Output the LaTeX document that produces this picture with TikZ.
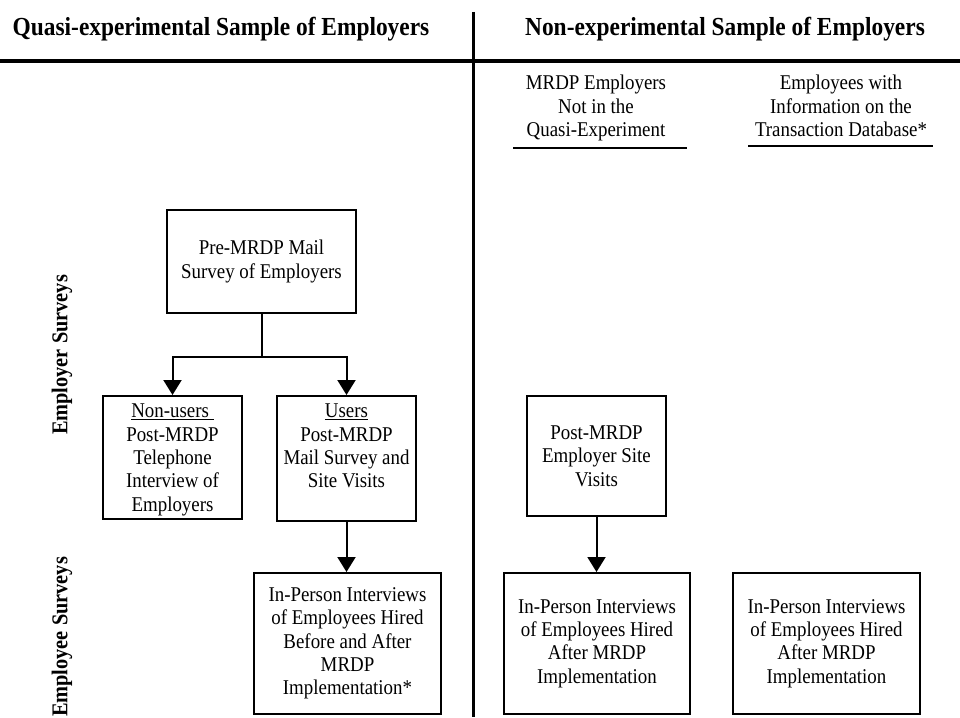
\documentclass[tikz,border=0pt]{standalone}
\usepackage{fontspec}
\setmainfont{Liberation Serif}[FakeStretch=0.9]
\usetikzlibrary{arrows.meta}
\begin{document}
\begin{tikzpicture}[x=1pt,y=-1pt,
  box/.style={draw, line width=2pt, inner sep=0pt, align=center,
    font=\fontsize{21}{23.3}\selectfont},
  txt/.style={inner sep=0pt, align=center, font=\fontsize{21}{23.3}\selectfont},
  head/.style={inner sep=0pt, font=\bfseries\fontsize{26}{30}\selectfont},
  side/.style={inner sep=0pt, rotate=90, font=\bfseries\fontsize{22.6}{26}\selectfont},
  flow/.style={line width=2pt, -{Triangle[width=18pt,length=15pt]}},
  link/.style={line width=2pt},
  rule/.style={line width=3pt},
  subrule/.style={line width=2.5pt}]
\fill[white] (0,0) rectangle (960,717);
\useasboundingbox (0,0) rectangle (960,717);

% column headings and frame
\node[head, anchor=base] (lefthead) at (221,36) {Quasi-experimental Sample of Employers};
\node[head, anchor=base] (righthead) at (725,36) {Non-experimental Sample of Employers};
\coordinate (divtop) at (473,12);
\coordinate (divbot) at (473,717);
\coordinate (hleft) at (0,61);
\coordinate (hright) at (960,61);
\draw[rule] (divtop) -- (divbot);
\draw[rule] (hleft) -- (hright);

% row labels
\node[side] (emplrlabel) at (62,355) {Employer Surveys};
\node[side] (empleelabel) at (62,637) {Employee Surveys};

% sub-headings of the non-experimental sample
\node[txt, anchor=north] (notquasi) at (596,75) {MRDP Employers\\Not in the\\Quasi-Experiment};
\node[txt, anchor=north] (transdb) at (841,75) {Employees with\\Information on the\\Transaction Database*};
\coordinate (u1a) at (513,148);
\coordinate (u1b) at (687,148);
\coordinate (u2a) at (748,146);
\coordinate (u2b) at (933,146);
\draw[subrule] (u1a) -- (u1b);
\draw[subrule] (u2a) -- (u2b);

% quasi-experimental sample
\node[box, minimum width=189pt, minimum height=103pt] (pre) at (261.5,261.5)
  {Pre-MRDP Mail\\Survey of Employers};
\node[box, minimum width=139pt, minimum height=123pt] (nonusers) at (172.5,457.5) {};
\node[txt, anchor=north] (nonuserstext) at (172.5,404)
  {\underline{Non-users\ }\\Post-MRDP\\Telephone\\Interview of\\Employers};
\node[box, minimum width=139pt, minimum height=125pt] (users) at (346.5,458.5) {};
\node[txt, anchor=north] (userstext) at (346.5,404)
  {\underline{Users}\\Post-MRDP\\Mail Survey and\\Site Visits};
\node[box, minimum width=187pt, minimum height=141pt] (before) at (347.5,643.5)
  {In-Person Interviews\\of Employees Hired\\Before and After\\MRDP\\Implementation*};

% non-experimental sample
\node[box, minimum width=139pt, minimum height=120pt] (sitevisit) at (596.5,456)
  {Post-MRDP\\Employer Site\\Visits};
\node[box, minimum width=186pt, minimum height=141pt] (after) at (597,643.5)
  {In-Person Interviews\\of Employees Hired\\After MRDP\\Implementation};
\node[box, minimum width=187pt, minimum height=141pt] (aftertrans) at (826.5,643.5)
  {In-Person Interviews\\of Employees Hired\\After MRDP\\Implementation};

% connectors
\coordinate (split) at (pre.south |- 0,357);
\draw[link] (pre.south) -- (split);
\draw[flow] (split) -| (nonusers.north);
\draw[flow] (split) -| (users.north);
\draw[flow] (users.south) -- (users.south |- before.north);
\draw[flow] (sitevisit.south) -- (sitevisit.south |- after.north);
\end{tikzpicture}
\end{document}
